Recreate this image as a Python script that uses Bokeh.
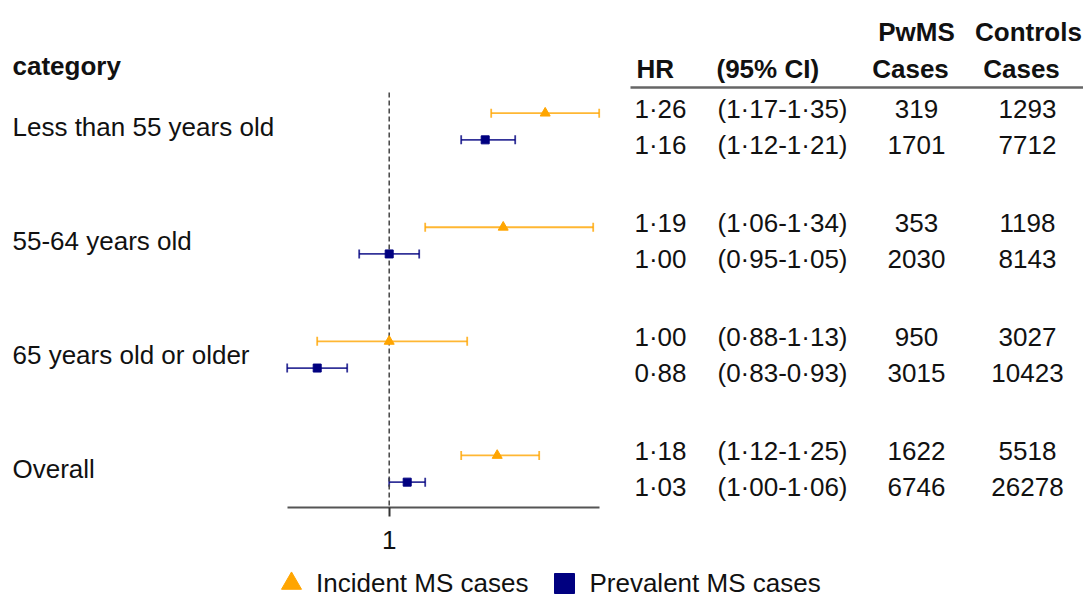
from bokeh.plotting import figure
from bokeh.layouts import column
from bokeh.models import (Range1d, FixedTicker, ColumnDataSource, Whisker, TeeHead,
                          LabelSet, Legend, LegendItem)
from bokeh.core.properties import value
from bokeh.embed import file_html
from bokeh.resources import INLINE

# ---------------- data ----------------
categories = ["Less than 55 years old", "55-64 years old", "65 years old or older", "Overall"]
inc_hr = [1.26, 1.19, 1.00, 1.18]
inc_lo = [1.17, 1.06, 0.88, 1.12]
inc_hi = [1.35, 1.34, 1.13, 1.25]
prev_hr = [1.16, 1.00, 0.88, 1.03]
prev_lo = [1.12, 0.95, 0.83, 1.00]
prev_hi = [1.21, 1.05, 0.93, 1.06]
inc_pwms_cases = [319, 353, 950, 1622]
inc_ctrl_cases = [1293, 1198, 3027, 5518]
prev_pwms_cases = [1701, 2030, 3015, 6746]
prev_ctrl_cases = [7712, 8143, 10423, 26278]
ref_value = 1.0
series_names = ["Incident MS cases", "Prevalent MS cases"]
header_left = ["category", "HR", "(95% CI)"]
header_center = ["PwMS", "Cases", "Controls", "Cases"]

# ---------------- layout ----------------
W = 1083
H_MAIN, H_LEG = 560, 38
FONT = "Liberation Sans"
FS = "26px"
X_UNIT = 600.0       # px per HR unit
X_REF_PX = 388.7     # px of HR = 1
Y_UNIT = 114.1       # px per category group
Y_G0_PX = 126.0      # px of first group centre
FRAME_BOTTOM = 507
PLOT_OFF = 13.35 / Y_UNIT
TAB_OFF = 17.7 / Y_UNIT
CAP_HALF = 9.3 / Y_UNIT
TXT = "#111111"

ORANGE = "#FFA500"
NAVY = "#000080"


def y_of(px):
    return (px - Y_G0_PX) / Y_UNIT


x_start = ref_value - X_REF_PX / X_UNIT
x_end = x_start + W / X_UNIT


def x_of(px):
    return x_start + px / X_UNIT


def fmt(v):
    return f"{v:.2f}".replace(".", "\u00b7")


p = figure(width=W, height=H_MAIN, output_backend="svg", toolbar_location=None,
           x_range=Range1d(x_start, x_end),
           y_range=Range1d(y_of(FRAME_BOTTOM), y_of(0)),
           y_axis_location=None,
           min_border_left=0, min_border_right=0, min_border_top=0,
           min_border_bottom=H_MAIN - FRAME_BOTTOM)
p.outline_line_color = None
p.xgrid.visible = False
p.ygrid.visible = False

groups = list(range(len(categories)))

inc_src = ColumnDataSource(dict(y=[g - PLOT_OFF for g in groups], hr=inc_hr, lo=inc_lo, hi=inc_hi))
prev_src = ColumnDataSource(dict(y=[g + PLOT_OFF for g in groups], hr=prev_hr, lo=prev_lo, hi=prev_hi))

# reference line
p.segment(x0=[ref_value], x1=[ref_value], y0=[y_of(92)], y1=[y_of(FRAME_BOTTOM)],
          line_color="#444444", line_width=1.5, line_dash="5 3")

for src, col in ((inc_src, ORANGE), (prev_src, NAVY)):
    w = Whisker(source=src, base="y", lower="lo", upper="hi", dimension="width",
                line_color=col, line_width=1.8, line_alpha=0.8,
                upper_head=TeeHead(size=9, line_color=col, line_width=1.8, line_alpha=0.8),
                lower_head=TeeHead(size=9, line_color=col, line_width=1.8, line_alpha=0.8))
    p.add_layout(w)

inc_pts = p.scatter("hr", "y", source=inc_src, marker="triangle", size=10,
                    fill_color=ORANGE, line_color=ORANGE)
prev_pts = p.scatter("hr", "y", source=prev_src, marker="square", size=8,
                     fill_color=NAVY, line_color=NAVY)

# axis
p.xaxis.ticker = FixedTicker(ticks=[ref_value])
p.xaxis.major_label_overrides = {ref_value: "1"}
p.xaxis.bounds = (min(inc_lo + prev_lo), max(inc_hi + prev_hi))
p.xaxis.axis_line_color = "#555555"
p.xaxis.axis_line_width = 2
p.xaxis.major_tick_line_color = "#333333"
p.xaxis.major_tick_line_width = 2
p.xaxis.major_tick_out = 9
p.xaxis.major_tick_in = 0
p.xaxis.minor_tick_line_color = None
p.xaxis.major_label_standoff = 14
p.xaxis.major_label_text_font = FONT
p.xaxis.major_label_text_font_size = FS
p.xaxis.major_label_text_color = TXT

# header rule
p.segment(x0=[x_of(630)], x1=[x_of(W)], y0=[y_of(87)], y1=[y_of(87)],
          line_color="#666666", line_width=2.5)

# category labels
cat_src = ColumnDataSource(dict(y=[g + CAP_HALF for g in groups], text=categories))
p.add_layout(LabelSet(x=12, x_units="screen", y="y", text="text", source=cat_src,
                      text_align="left", text_baseline="alphabetic",
                      text_font=value(FONT), text_font_size=value(FS), text_color=TXT))

# table
rows_y, hr_t, ci_t, pw_t, ct_t = [], [], [], [], []
for g in groups:
    rows_y += [g - TAB_OFF + CAP_HALF, g + TAB_OFF + CAP_HALF]
    hr_t += [fmt(inc_hr[g]), fmt(prev_hr[g])]
    ci_t += [f"({fmt(inc_lo[g])}-{fmt(inc_hi[g])})", f"({fmt(prev_lo[g])}-{fmt(prev_hi[g])})"]
    pw_t += [str(inc_pwms_cases[g]), str(prev_pwms_cases[g])]
    ct_t += [str(inc_ctrl_cases[g]), str(prev_ctrl_cases[g])]
tab_src = ColumnDataSource(dict(y=rows_y, hr=hr_t, ci=ci_t, pw=pw_t, ct=ct_t))
for field, xpx, align in (("hr", 686, "right"), ("ci", 782, "center"),
                          ("pw", 916, "center"), ("ct", 1027, "center")):
    p.add_layout(LabelSet(x=xpx, x_units="screen", y="y", text=field, source=tab_src,
                          text_align=align, text_baseline="alphabetic",
                          text_font=value(FONT), text_font_size=value(FS), text_color=TXT))

# headers (bold)
hl_src = ColumnDataSource(dict(x=[12, 636, 716], y=[y_of(74), y_of(77), y_of(77)],
                               text=header_left))
hc_src = ColumnDataSource(dict(x=[916, 910, 1028, 1021],
                               y=[y_of(40), y_of(77), y_of(40), y_of(77)],
                               text=header_center))
for src, align in ((hl_src, "left"), (hc_src, "center")):
    p.add_layout(LabelSet(x="x", x_units="screen", y="y", text="text", source=src,
                          text_align=align, text_baseline="alphabetic",
                          text_font=value(FONT), text_font_size=value(FS),
                          text_font_style="bold", text_color=TXT))

# legend strip (key renderers share the series data, drawn outside this strip's view)
pl = figure(width=W, height=H_LEG, output_backend="svg", toolbar_location=None,
            x_range=Range1d(x_start, x_end), y_range=Range1d(100, 101),
            x_axis_location=None, y_axis_location=None,
            min_border_left=0, min_border_right=0, min_border_top=0, min_border_bottom=0)
pl.outline_line_color = None
pl.grid.visible = False
key_inc = pl.scatter("hr", "y", source=inc_src, marker="triangle",
                     fill_color=ORANGE, line_color=ORANGE)
key_prev = pl.scatter("hr", "y", source=prev_src, marker="square",
                      fill_color=NAVY, line_color=NAVY)
leg = Legend(items=[LegendItem(label=series_names[0], renderers=[key_inc]),
                    LegendItem(label=series_names[1], renderers=[key_prev])],
             orientation="horizontal", location=(266, -13),
             glyph_width=50, glyph_height=56, label_standoff=0, spacing=11,
             padding=0, margin=0, border_line_color=None, background_fill_alpha=0,
             label_text_font=FONT, label_text_font_size=FS, label_text_color=TXT)
pl.add_layout(leg, "center")

open("out.html", "w").write(file_html(column(p, pl, spacing=0), INLINE))
